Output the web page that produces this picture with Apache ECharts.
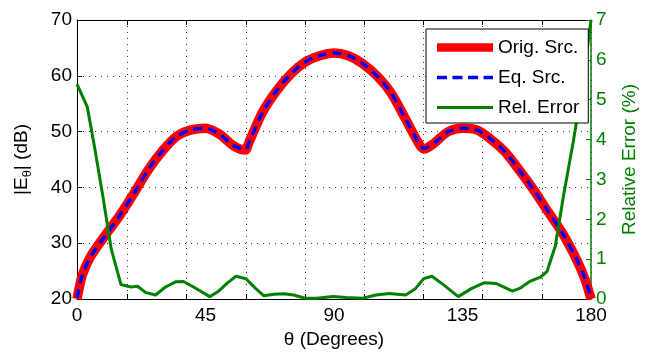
<!DOCTYPE html>
<html>
<head>
<meta charset="utf-8">
<script src="https://cdn.jsdelivr.net/npm/echarts@6/dist/echarts.min.js"></script>
<style>
  html, body { margin: 0; padding: 0; background: #fff; }
  #chart { width: 647px; height: 354px; }
</style>
</head>
<body>
<div id="chart"></div>
<script>
// field pattern |E_theta| (dB), original vs equivalent source
var thetaDb = [0, 1, 2, 5, 10, 15, 20, 25, 30, 35, 40, 45, 50, 55, 59, 60, 65, 70, 75, 80, 85, 90,
  95, 100, 105, 110, 115, 120, 121.5, 125, 130, 135, 140, 145, 150, 155, 160, 165, 170, 175, 178, 180];
var origSrc = [20.0, 22.5, 24.5, 27.8, 31.5, 35.0, 39.0, 43.2, 46.6, 49.2, 50.3, 50.6, 49.5, 47.4, 46.7, 47.8,
  53.5, 57.4, 60.4, 62.5, 63.6, 64.1, 63.6, 62.2, 60.0, 56.9, 52.3, 47.6, 46.9, 47.9, 50.0, 50.6, 50.3,
  48.6, 46.3, 43.0, 39.5, 35.6, 31.8, 27.0, 23.4, 20.0];
var eqSrc = [20.2, 22.6, 24.5, 27.8, 31.4, 35.0, 39.0, 43.2, 46.6, 49.2, 50.3, 50.6, 49.5, 47.4, 46.8, 47.8,
  53.5, 57.4, 60.4, 62.5, 63.6, 64.1, 63.6, 62.2, 60.0, 56.9, 52.3, 47.7, 47.0, 47.9, 50.0, 50.6, 50.3,
  48.6, 46.3, 43.0, 39.5, 35.7, 31.8, 27.1, 23.5, 20.2];

// relative error (%)
var thetaErr = [0, 3.6, 6.2, 9.1, 12, 15.4, 18.9, 21.2, 24.1, 27.5, 31, 34.5, 37.3, 40.8, 46.5, 49.3,
  52.8, 55.7, 59.2, 62.6, 65.5, 69, 72.4, 75.9, 79.9, 83.9, 89.7, 94.3, 100.1, 104.7, 109.3, 115.1,
  118.5, 121.4, 124.3, 128.3, 133.5, 138.1, 142.7, 146.7, 152.5, 155.4, 158.8, 162.3, 164.6, 167.5,
  170.3, 173.8, 177.2, 180];
var relErr = [5.39, 4.82, 3.79, 2.56, 1.25, 0.36, 0.30, 0.32, 0.16, 0.10, 0.30, 0.43, 0.44, 0.30, 0.06, 0.18,
  0.41, 0.57, 0.51, 0.26, 0.08, 0.12, 0.13, 0.10, 0.02, 0.02, 0.06, 0.04, 0.02, 0.10, 0.14, 0.10,
  0.26, 0.51, 0.57, 0.36, 0.06, 0.26, 0.41, 0.39, 0.20, 0.28, 0.45, 0.55, 0.69, 1.33,
  2.56, 3.95, 5.43, 7.0];

var seriesNames = ['Orig. Src.', 'Eq. Src.', 'Rel. Error'];

function pairs(xs, ys) {
  return xs.map(function (x, i) { return [x, ys[i]]; });
}

var FONT = 'Liberation Sans, Arial, Helvetica, sans-serif';
var FS = 19;
var GREEN = '#008000';
var dotted = { color: '#333', width: 1, type: [1, 5] };

// legend icons: a 56x14 box (corner specks keep the box size), band drawn in the middle
var BOX = 'M0,0L0.01,0M0,14L0.01,14M56,0L55.99,0M56,14L55.99,14';
var iconRed = 'path://' + BOX + 'M0,2.7h56v8.6h-56z';
var iconBlue = 'path://' + BOX + 'M0,5.2h10v3.6h-10zM15.5,5.2h10v3.6h-10zM31,5.2h10v3.6h-10zM46.5,5.2h9.5v3.6h-9.5z';
var iconGreen = 'path://' + BOX + 'M0,5.5h56v3h-56z';

var myChart = echarts.init(document.getElementById('chart'));

var options = {
  animation: false,
  textStyle: { fontFamily: FONT },
  grid: { left: 77, right: 49, top: 20, bottom: 50, containLabel: false },
  legend: {
    orient: 'vertical',
    left: 426,
    top: 29,
    padding: [9, 9, 6, 11],
    itemGap: 11,
    itemWidth: 56,
    itemHeight: 14,
    backgroundColor: '#fff',
    borderColor: '#000',
    borderWidth: 1,
    borderRadius: 0,
    textStyle: { fontSize: FS, color: '#000', fontFamily: FONT },
    data: [
      { name: seriesNames[0], icon: iconRed },
      { name: seriesNames[1], icon: iconBlue },
      { name: seriesNames[2], icon: iconGreen }
    ]
  },
  xAxis: [{
    type: 'value',
    min: 0,
    max: 180,
    interval: 45,
    position: 'bottom',
    name: 'θ (Degrees)',
    nameLocation: 'middle',
    nameGap: 31,
    nameTextStyle: { fontSize: FS, color: '#000', fontFamily: FONT },
    axisLine: { show: true, onZero: false, lineStyle: { color: '#000', width: 1 } },
    axisTick: { show: false },
    splitLine: { show: false },
    axisLabel: { fontSize: FS, color: '#000', margin: 7, fontFamily: FONT }
  }, {
    // grid spacing axis (ticks and dotted grid)
    type: 'value',
    min: -0.85,
    max: 7.83,
    splitNumber: 9,
    position: 'bottom',
    axisLine: { show: false, onZero: false },
    axisTick: { show: true, inside: true, length: 5, lineStyle: { color: '#000' } },
    axisLabel: { show: false },
    splitLine: { show: true, lineStyle: dotted }
  }, {
    type: 'value',
    min: -0.85,
    max: 7.83,
    splitNumber: 9,
    position: 'top',
    axisLine: { show: true, onZero: false, lineStyle: { color: '#000', width: 1 } },
    axisTick: { show: true, inside: true, length: 5, lineStyle: { color: '#000' } },
    axisLabel: { show: false },
    splitLine: { show: false }
  }],
  yAxis: [{
    type: 'value',
    min: 20,
    max: 70,
    interval: 10,
    position: 'left',
    name: '{a||E}{sub|θ}{a|| (dB)}',
    nameLocation: 'middle',
    nameGap: 43,
    nameRotate: 90,
    nameTextStyle: {
      color: '#000',
      fontFamily: FONT,
      rich: {
        a: { fontSize: FS, lineHeight: 25, verticalAlign: 'middle', fontFamily: FONT, color: '#000' },
        sub: { fontSize: 13, lineHeight: 13, verticalAlign: 'bottom', fontFamily: FONT, color: '#000' }
      }
    },
    axisLine: { show: true, onZero: false, lineStyle: { color: '#000', width: 1 } },
    axisTick: { show: true, inside: true, length: 5, lineStyle: { color: '#000' } },
    axisLabel: { fontSize: FS, color: '#000', margin: 5, fontFamily: FONT },
    splitLine: { show: true, lineStyle: dotted }
  }, {
    type: 'value',
    min: 0,
    max: 7,
    interval: 1,
    position: 'right',
    name: 'Relative Error (%)',
    nameLocation: 'middle',
    nameGap: 29,
    nameRotate: 90,
    nameTextStyle: { fontSize: FS, color: GREEN, fontFamily: FONT },
    axisLine: { show: true, onZero: false, lineStyle: { color: GREEN, width: 1.5 } },
    axisTick: { show: true, inside: true, length: 5, lineStyle: { color: GREEN } },
    axisLabel: { fontSize: FS, color: GREEN, margin: 5, fontFamily: FONT },
    splitLine: { show: false }
  }],
  series: [{
    name: seriesNames[0],
    type: 'line',
    xAxisIndex: 0,
    yAxisIndex: 0,
    smooth: 0.3,
    symbol: 'none',
    color: '#ff0000',
    lineStyle: { width: 9.5, color: '#ff0000', cap: 'butt' },
    data: pairs(thetaDb, origSrc)
  }, {
    name: seriesNames[1],
    type: 'line',
    xAxisIndex: 0,
    yAxisIndex: 0,
    smooth: 0.3,
    symbol: 'none',
    color: '#0000ff',
    lineStyle: { width: 3.5, color: '#0000ff', type: [9, 6] },
    data: pairs(thetaDb, eqSrc)
  }, {
    name: seriesNames[2],
    type: 'line',
    xAxisIndex: 0,
    yAxisIndex: 1,
    symbol: 'none',
    color: GREEN,
    lineStyle: { width: 3, color: GREEN },
    data: pairs(thetaErr, relErr)
  }]
};

myChart.setOption(options, true);
</script>
</body>
</html>
